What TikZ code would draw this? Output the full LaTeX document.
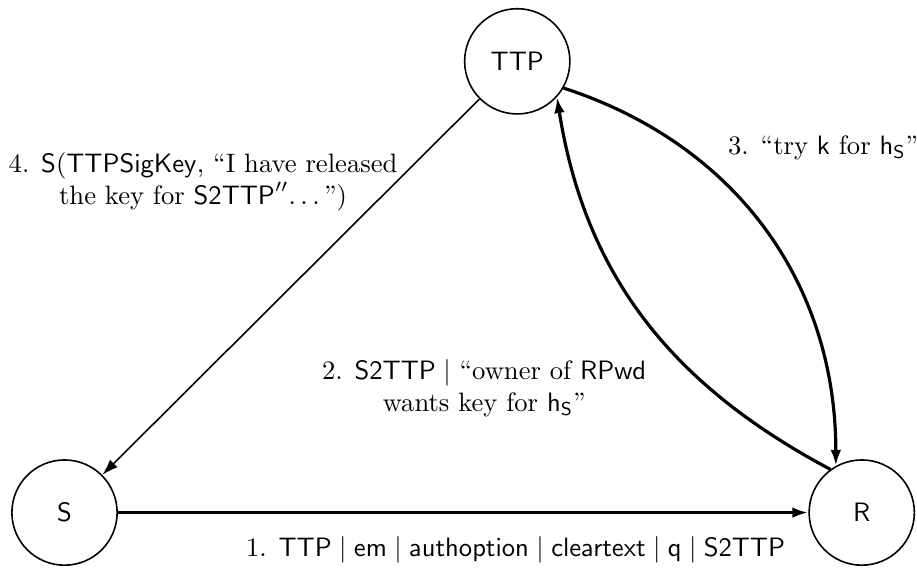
\documentclass[tikz,border=0pt]{standalone}
\usepackage{amsmath,amssymb}
\usetikzlibrary{automata, positioning, arrows.meta}
\newcommand{\spreaddots}{.\kern\fontdimen3\font.\kern\fontdimen3\font.\kern\fontdimen3\font}
\tikzset{
  every state/.style={
    draw=black,
    semithick,
    fill=white,
    minimum size=13.9mm,
    inner sep=0pt,
    font=\sffamily
  },
  every edge/.style={
    draw=black,
    line width=1.2pt,
    -{Latex[length=6pt,width=4pt]}
  },
  light edge/.style={
    semithick
  }
}

\begin{document}
\begin{tikzpicture}
  \useasboundingbox (-0.852,-0.786) rectangle (11.26,6.77);

  \node[state] (S) at (0, 0) {S};
  \node[state] (R) at (10.53, 0) {R};
  \node[state] (TTP) at (5.98, 5.96) {TTP};

  \path (S) edge node[below=5pt, pos=0.576]{1. $\mathsf{TTP} \mid \mathsf{em} \mid \mathsf{authoption} \mid \mathsf{cleartext} \mid \mathsf{q} \mid \mathsf{S2TTP}$} (R);
  \path (R.126) edge[out=152, in=-81] node[left=20pt, pos=0.29, align=center]{2. $\mathsf{S2TTP} \mid$ ``owner of $\mathsf{RPwd}$\\ wants key for $\mathsf{h}_\mathsf{S}$''} (TTP.-42);
  \path (TTP.-30) edge[out=-18, in=90] node[right=13pt, pos=0.26]{3. ``try $\mathsf{k}$ for $\mathsf{h}_\mathsf{S}$''} (R.119);
  \path (TTP) edge[light edge] node[left=-4pt, pos=0.22, align=center]{4. $\mathsf{S}(\mathsf{TTPSigKey}$, ``I have released\\ the key for $\mathsf{S2TTP}''$\spreaddots'')} (S);
\end{tikzpicture}
\end{document}
